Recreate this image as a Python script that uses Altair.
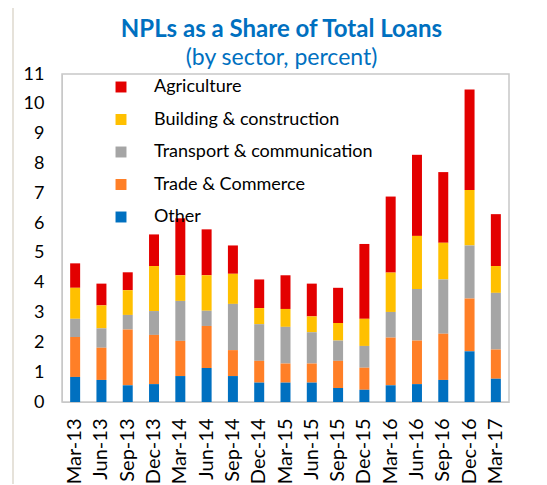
import altair as alt
import pandas as pd

quarters = ["Mar-13", "Jun-13", "Sep-13", "Dec-13", "Mar-14", "Jun-14", "Sep-14", "Dec-14",
            "Mar-15", "Jun-15", "Sep-15", "Dec-15", "Mar-16", "Jun-16", "Sep-16", "Dec-16", "Mar-17"]

other = [0.84, 0.74, 0.56, 0.60, 0.87, 1.14, 0.87, 0.65, 0.65, 0.65, 0.47, 0.41, 0.56, 0.60, 0.74, 1.70, 0.78]
trade = [1.34, 1.08, 1.87, 1.65, 1.18, 1.41, 0.87, 0.73, 0.64, 0.64, 0.91, 0.74, 1.60, 1.46, 1.55, 1.77, 0.98]
transport = [0.61, 0.65, 0.49, 0.80, 1.34, 0.51, 1.55, 1.23, 1.23, 1.05, 0.68, 0.73, 0.86, 1.73, 1.82, 1.78, 1.90]
building = [1.04, 0.77, 0.83, 1.51, 0.86, 1.19, 1.01, 0.54, 0.60, 0.53, 0.59, 0.91, 1.32, 1.78, 1.23, 1.86, 0.90]
agriculture = [0.82, 0.73, 0.60, 1.06, 1.91, 1.54, 0.95, 0.96, 1.13, 1.10, 1.18, 2.51, 2.55, 2.72, 2.37, 3.37, 1.74]

sectors = ["Agriculture", "Building & construction", "Transport & communication", "Trade & Commerce", "Other"]
colors = ["#E30000", "#FFC000", "#A5A5A5", "#FF7F27", "#0070C0"]
series = [agriculture, building, transport, trade, other]

rows = []
for s_idx, (name, vals) in enumerate(zip(sectors, series)):
    for q, v in zip(quarters, vals):
        rows.append({"quarter": q, "sector": name, "value": v, "rank": len(sectors) - s_idx})
df = pd.DataFrame(rows)

SP = "\u2002"
label_expr = ("(datum.label == 'Agriculture' || datum.label == 'Other') ? '"
              + SP + "' + datum.label : datum.label")

bars = alt.Chart(df).mark_bar().encode(
    x=alt.X("quarter:N", sort=quarters, title=None,
            scale=alt.Scale(paddingInner=0.62, paddingOuter=0.31),
            axis=alt.Axis(labelAngle=-90, labelFontSize=20, labelColor="#000000",
                          ticks=False, labelPadding=16, domainColor="#C8C8C8",
                          labelFont="Lato", labelBaseline="middle", labelAlign="right")),
    y=alt.Y("value:Q", title=None, stack="zero",
            scale=alt.Scale(domain=[0, 11], nice=False),
            axis=alt.Axis(values=list(range(0, 12)), labelFontSize=18, labelColor="#000000",
                          ticks=False, labelPadding=18, domainColor="#C8C8C8", grid=False,
                          labelFont="Lato")),
    color=alt.Color("sector:N", scale=alt.Scale(domain=sectors, range=colors),
                    legend=alt.Legend(title=None, orient="none", legendX=50, legendY=4,
                                      symbolType="square", symbolSize=120, symbolStrokeWidth=0,
                                      labelFontSize=18, labelFont="Lato", labelColor="#000000",
                                      labelOffset=24, rowPadding=14.5, padding=0,
                                      labelLimit=400, labelExpr=label_expr)),
    order=alt.Order("rank:Q", sort="ascending"),
)

frame_top = alt.Chart(df).mark_rule(color="#E6E2DA", strokeWidth=2).encode(
    x=alt.value(-49), x2=alt.value(490), y=alt.value(-69))
frame_left = alt.Chart(df).mark_rule(color="#E6E2DA", strokeWidth=2).encode(
    x=alt.value(-49), y=alt.value(-69), y2=alt.value(420))

chart = alt.layer(frame_top, frame_left, bars).properties(
    width=447, height=328,
    title=alt.TitleParams(text="NPLs as a Share of Total Loans",
                          subtitle="(by sector, percent)",
                          fontSize=24, fontWeight="bold", color="#0070C0", font="Lato",
                          subtitleFontSize=23, subtitleColor="#0070C0", subtitleFont="Lato",
                          subtitlePadding=5, anchor="middle", offset=-66, dx=-4),
    autosize=alt.AutoSizeParams(type="none"),
    padding={"left": 54, "top": 66, "right": 30, "bottom": 82},
).configure_view(stroke="#C8C8C8", strokeWidth=1.5)

chart.save("out.html", embed_options={"renderer": "svg", "actions": False})
